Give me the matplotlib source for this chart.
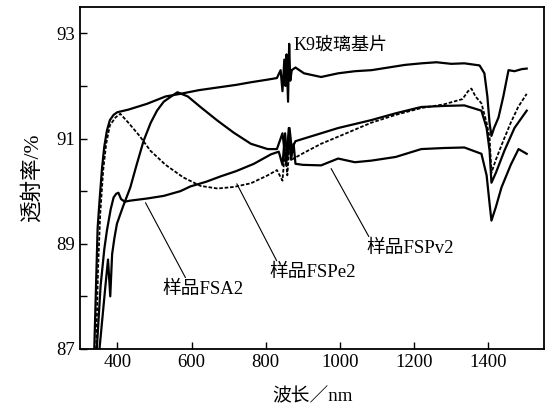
import matplotlib.pyplot as plt
from matplotlib.ticker import MultipleLocator

plt.rcParams['font.family'] = ['Liberation Serif', 'Noto Sans CJK SC']

# ---- data (wavelength nm, transmittance %) ----
k9_x = [338, 347, 353, 359, 365, 372, 380, 390, 400, 430, 480, 530, 570, 620, 670, 720,
        760, 805, 830, 840, 845, 850, 853, 856, 860, 863, 866, 870, 880, 903, 949, 995,
        1040, 1085, 1130, 1175, 1220, 1260, 1300, 1335, 1376, 1389, 1397, 1403, 1408,
        1415, 1427, 1440, 1454, 1470, 1490, 1503]
k9_y = [87.0, 89.3, 89.9, 90.45, 90.85, 91.15, 91.35, 91.45, 91.5, 91.55, 91.66, 91.8,
        91.85, 91.92, 91.97, 92.02, 92.07, 92.12, 92.15, 92.3, 91.9, 92.5, 92.0, 92.6,
        91.7, 92.8, 92.1, 92.3, 92.35, 92.24, 92.17, 92.24, 92.28, 92.3, 92.35, 92.4,
        92.43, 92.45, 92.42, 92.43, 92.39, 92.24, 91.8, 91.29, 91.05, 91.2, 91.4, 91.8,
        92.3, 92.28, 92.32, 92.33]

fspe2_x = [343, 348, 354, 362, 370, 380, 395, 408, 430, 460, 489, 530, 578, 624, 670,
           714, 760, 805, 830, 845, 852, 858, 864, 870, 903, 949, 1000, 1084, 1150, 1219,
           1280, 1330, 1345, 1354, 1365, 1381, 1395, 1403, 1408, 1420, 1440, 1460, 1480,
           1503]
fspe2_y = [87.0, 88.5, 89.57, 90.4, 90.9, 91.25, 91.4, 91.47, 91.3, 91.05, 90.77, 90.5,
           90.26, 90.1, 90.05, 90.08, 90.15, 90.3, 90.4, 90.2, 90.8, 90.3, 90.9, 90.6,
           90.73, 90.9, 91.05, 91.3, 91.45, 91.58, 91.65, 91.75, 91.9, 91.95, 91.8, 91.67,
           91.3, 91.02, 90.35, 90.6, 90.96, 91.3, 91.6, 91.85]

fsa2_x = [345, 355, 365, 372, 382, 390, 397, 403, 410, 420, 435, 480, 525, 570, 597, 640,
          678, 720, 768, 814, 835, 845, 852, 858, 864, 870, 880, 903, 949, 995, 1084, 1150,
          1219, 1280, 1335, 1381, 1395, 1403, 1408, 1420, 1443, 1470, 1503]
fsa2_y = [87.03, 88.2, 88.9, 89.25, 89.65, 89.88, 89.95, 89.97, 89.85, 89.8, 89.82, 89.86,
          89.91, 90.0, 90.09, 90.18, 90.28, 90.38, 90.52, 90.7, 90.75, 90.5, 91.1, 90.6,
          91.2, 90.8, 90.95, 91.0, 91.1, 91.2, 91.35, 91.48, 91.6, 91.62, 91.63, 91.53,
          91.2, 90.77, 90.16, 90.35, 90.77, 91.2, 91.53]

fspv2_x = [352, 360, 368, 375, 381, 386, 392, 399, 415, 435, 452, 471, 490, 507, 525, 543,
           562, 590, 624, 670, 714, 760, 805, 830, 845, 855, 862, 868, 875, 880, 900, 949,
           995, 1040, 1084, 1150, 1219, 1280, 1335, 1381, 1395, 1403, 1408, 1420, 1435,
           1460, 1481, 1503]
fspv2_y = [87.0, 87.6, 88.2, 88.7, 88.0, 88.8, 89.1, 89.38, 89.7, 90.07, 90.5, 90.96, 91.3,
           91.53, 91.7, 91.79, 91.88, 91.8, 91.6, 91.34, 91.11, 90.9, 90.8, 90.8, 91.1,
           90.5, 91.2, 90.6, 90.9, 90.52, 90.5, 90.49, 90.62, 90.55, 90.58, 90.65, 90.8,
           90.82, 90.83, 90.71, 90.3, 89.76, 89.44, 89.7, 90.07, 90.5, 90.8, 90.71]

x_ticks = [400, 600, 800, 1000, 1200, 1400]
y_ticks = [87, 89, 91, 93]

fig = plt.figure(figsize=(5.53, 4.13), dpi=100)
ax = fig.add_axes([0.145, 0.155, 0.839, 0.828])

ax.plot(k9_x, k9_y, color='black', lw=1.6)
ax.plot(fspv2_x, fspv2_y, color='black', lw=1.6)
ax.plot(fsa2_x, fsa2_y, color='black', lw=1.6)
ax.plot(fspe2_x, fspe2_y, color='black', lw=1.3, linestyle=(0, (2, 1)))

ax.set_xlim(300, 1550)
ax.set_ylim(87, 93.5)
ax.set_xticks(x_ticks)
ax.set_yticks(y_ticks)
ax.yaxis.set_minor_locator(MultipleLocator(1))
ax.tick_params(which='both', direction='in', length=5, width=1, labelsize=13.5,
               top=False, right=False)
for s in ax.spines.values():
    s.set_linewidth(1.3)

# labels with leader lines
ax.text(876, 92.77, 'K9玻璃基片', fontsize=13, va='center', ha='left')
ax.annotate('样品FSA2', xy=(476, 89.78), xytext=(522, 88.14), fontsize=13.5,
            va='center', ha='left',
            arrowprops=dict(arrowstyle='-', color='black', lw=0.8, shrinkA=0, shrinkB=0,
                            relpos=(0.3, 1.0)))
ax.annotate('样品FSPe2', xy=(722, 90.14), xytext=(810, 88.46), fontsize=13.5,
            va='center', ha='left',
            arrowprops=dict(arrowstyle='-', color='black', lw=0.8, shrinkA=0, shrinkB=0,
                            relpos=(0.1, 1.0)))
ax.annotate('样品FSPv2', xy=(976, 90.43), xytext=(1070, 88.92), fontsize=13.5,
            va='center', ha='left',
            arrowprops=dict(arrowstyle='-', color='black', lw=0.8, shrinkA=0, shrinkB=0,
                            relpos=(0.05, 1.0)))

ax.set_xlabel('波长／nm', fontsize=13.5, labelpad=12)
ax.set_ylabel('透射率/%', fontsize=15.5, labelpad=10)

fig.savefig('out.png', dpi=100)
